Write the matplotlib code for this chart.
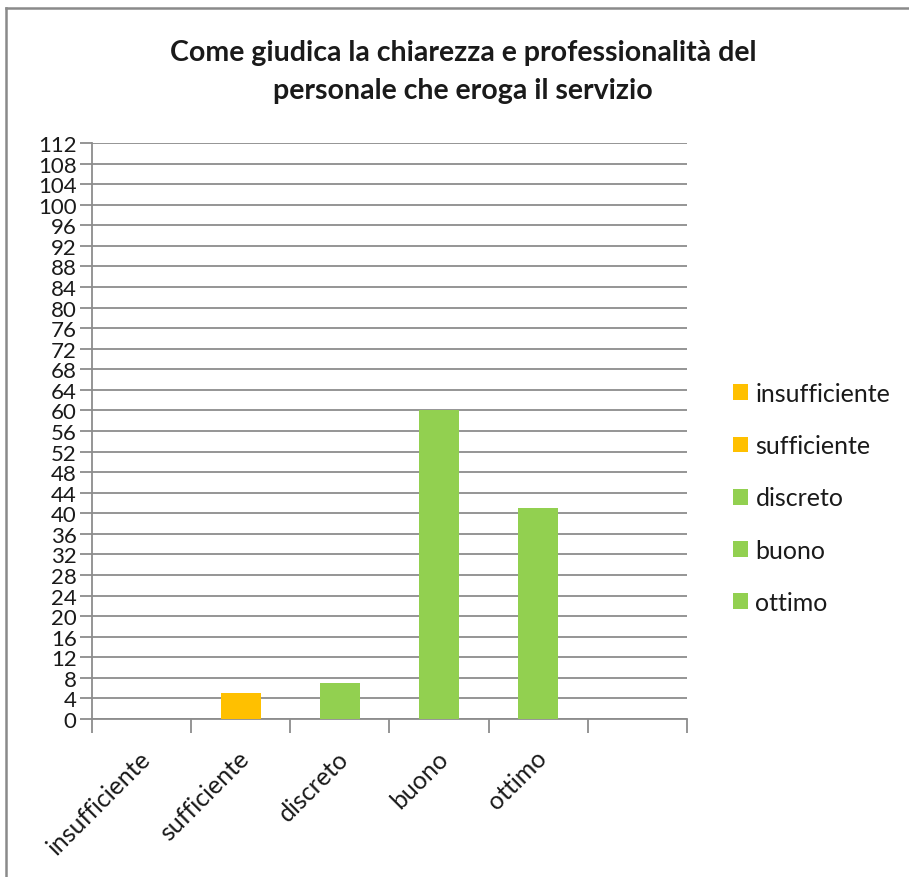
import matplotlib
matplotlib.use("Agg")
import matplotlib.pyplot as plt
from matplotlib.lines import Line2D
from matplotlib.patches import Patch

# valutazioni del personale
categories = ["insufficiente", "sufficiente", "discreto", "buono", "ottimo"]
counts = [0, 5, 7, 60, 41]
series_colors = ["#FFC000", "#FFC000", "#92D050", "#92D050", "#92D050"]

n_slots = 6          # the last category slot is left empty
y_max = 112
y_step = 4

FONT = ["Lato", "DejaVu Sans"]
TXT = "#1a1a1a"
GRID = "#8c8c8c"

W, H = 909, 878
fig = plt.figure(figsize=(W / 100, H / 100), dpi=100)
fig.patch.set_facecolor("white")

# outer chart frame (only top and left edges fall inside the image)
fig.add_artist(Line2D([6 / W, 6 / W], [0, 1 - 9 / H], transform=fig.transFigure,
                      color="#8a8a8a", lw=1.8))
fig.add_artist(Line2D([6 / W, 1], [1 - 9 / H, 1 - 9 / H], transform=fig.transFigure,
                      color="#8a8a8a", lw=1.8))

ax = fig.add_axes([92 / W, 1 - 720 / H, (687 - 92) / W, (720 - 144) / H])

x = list(range(len(categories)))
ax.bar(x, counts, width=0.4, color=series_colors, zorder=3)

ax.set_xlim(-0.5, n_slots - 0.5)
ax.set_ylim(0, y_max)

yt = list(range(0, y_max + 1, y_step))
ax.set_yticks(yt)
ax.set_yticklabels([str(v) for v in yt], family=FONT, fontsize=16, color=TXT)
ax.yaxis.grid(True, color=GRID, lw=1.3, zorder=0)
ax.tick_params(axis="y", length=9, width=1.3, color=GRID, pad=2)

# slot boundaries as tick marks, labels placed separately
ax.set_xticks([i - 0.5 for i in range(n_slots + 1)])
ax.set_xticklabels([])
ax.tick_params(axis="x", length=10, width=1.3, color=GRID)

for i, name in enumerate(categories):
    ax.annotate(name, xy=(i, 0), xycoords=("data", "axes fraction"),
                xytext=(5, -35), textcoords="offset pixels",
                rotation=45, rotation_mode="anchor", ha="right", va="center",
                family=FONT, fontsize=18, color=TXT)

for side in ["top", "right"]:
    ax.spines[side].set_visible(False)
for side in ["left", "bottom"]:
    ax.spines[side].set_color(GRID)
    ax.spines[side].set_linewidth(1.3)

fig.text(463 / W, 1 - 72 / H,
         "Come giudica la chiarezza e professionalità del\npersonale che eroga il servizio",
         ha="center", va="center", family=FONT, fontsize=20.5, fontweight="bold",
         color=TXT, linespacing=1.6)

handles = [Patch(facecolor=c, edgecolor="none") for c in series_colors]
leg = fig.legend(handles, categories, loc="upper left",
                 bbox_to_anchor=(713 / W, 1 - 363 / H), frameon=False,
                 prop={"family": FONT, "size": 18}, labelcolor=TXT,
                 handlelength=0.6, handleheight=0.6, handletextpad=0.3,
                 labelspacing=1.17, borderpad=0.3)

fig.savefig("out.png", dpi=100, facecolor="white")
